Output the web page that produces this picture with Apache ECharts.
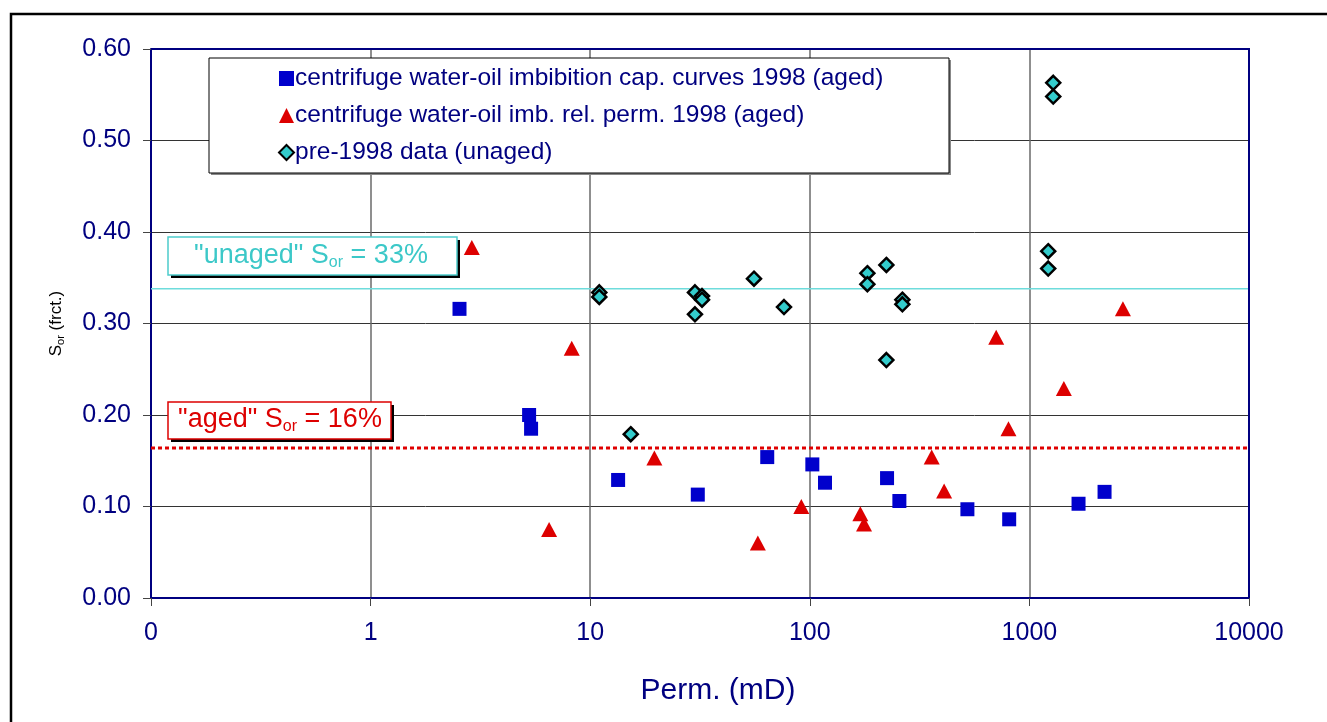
<!DOCTYPE html>
<html>
<head>
<meta charset="utf-8">
<script src="https://cdn.jsdelivr.net/npm/echarts@6/dist/echarts.min.js"></script>
<style>
  html, body { margin: 0; padding: 0; background: #ffffff; }
  #chart { width: 1327px; height: 722px; }
</style>
</head>
<body>
<div id="chart"></div>
<script>
// Residual oil saturation vs permeability
const capPerm = [2.54, 5.27, 5.38, 13.4, 30.9, 64.0, 102.7, 117.3, 224.8, 255.8, 522, 809, 1674, 2199];
const capSor  = [0.316, 0.200, 0.185, 0.129, 0.113, 0.154, 0.146, 0.126, 0.131, 0.106, 0.097, 0.086, 0.103, 0.116];

const relPerm = [2.89, 8.24, 19.6, 6.50, 58.0, 91.5, 169.9, 176.6, 359, 409, 706, 803, 1435, 2666];
const relSor  = [0.383, 0.273, 0.153, 0.075, 0.060, 0.100, 0.092, 0.081, 0.154, 0.117, 0.285, 0.185, 0.229, 0.316];

const unagedPerm = [11.0, 11.0, 15.3, 30.0, 30.0, 32.3, 32.3, 55.7, 76.3, 182.9, 182.9, 223.2, 223.2, 264, 264, 1218, 1218, 1284, 1284];
const unagedSor  = [0.334, 0.329, 0.179, 0.334, 0.310, 0.330, 0.326, 0.349, 0.318, 0.355, 0.343, 0.364, 0.260, 0.326, 0.321, 0.379, 0.360, 0.563, 0.548];

const seriesNames = [
  'centrifuge water-oil imbibition cap. curves 1998 (aged)',
  'centrifuge water-oil imb. rel. perm. 1998 (aged)',
  'pre-1998 data (unaged)'
];

// Average residual oil saturation levels
const unagedMean = 0.338;
const agedMean = 0.164;

const xTicks = [0.1, 1, 10, 100, 1000, 10000];
const yTicks = ['0.00', '0.10', '0.20', '0.30', '0.40', '0.50', '0.60'];

const NAVY = '#000080';
const FONT = 'Liberation Sans, Arial, sans-serif';

const pairs = (xs, ys) => xs.map((x, i) => [x, ys[i]]);
// whole percent, truncated
const pct = v => Math.floor(v * 100 + 1e-9) + '%';

const chart = echarts.init(document.getElementById('chart'), null, { renderer: 'canvas' });

const option = {
  backgroundColor: '#ffffff',
  animation: false,
  textStyle: { fontFamily: FONT },
  grid: { left: 151, top: 49, right: 78, bottom: 124, show: false },
  xAxis: {
    type: 'log',
    logBase: 10,
    min: xTicks[0],
    max: xTicks[xTicks.length - 1],
    name: 'Perm. (mD)',
    nameLocation: 'middle',
    nameGap: 78,
    nameTextStyle: { color: NAVY, fontSize: 30, fontFamily: FONT, padding: [0, 0, 0, 36] },
    axisLine: { show: true, onZero: false, lineStyle: { color: NAVY, width: 2 } },
    axisTick: { show: true, inside: false, length: 8, lineStyle: { color: '#444', width: 1 } },
    axisLabel: {
      color: NAVY, fontSize: 25, fontFamily: FONT, margin: 23,
      formatter: v => (v < 1 ? '0' : String(Math.round(v)))
    },
    splitLine: { show: true, lineStyle: { color: '#6a6a6a', width: 1.5 } },
    minorTick: { show: false },
    minorSplitLine: { show: false }
  },
  yAxis: {
    type: 'value',
    min: 0,
    max: 0.6,
    interval: 0.1,
    name: '{a|S}{b|or}{a| (frct.)}',
    nameLocation: 'middle',
    nameGap: 85,
    nameRotate: 90,
    nameTextStyle: {
      color: '#000',
      rich: {
        a: { fontSize: 17, fontFamily: FONT, color: '#000', lineHeight: 20 },
        b: { fontSize: 11, fontFamily: FONT, color: '#000', lineHeight: 12, verticalAlign: 'bottom' }
      }
    },
    axisLine: { show: true, lineStyle: { color: NAVY, width: 2 } },
    axisTick: { show: true, inside: false, length: 8, lineStyle: { color: '#444', width: 1 } },
    axisLabel: {
      color: NAVY, fontSize: 25, fontFamily: FONT, margin: 20,
      formatter: (v) => yTicks[Math.round(v * 10)]
    },
    splitLine: { show: true, lineStyle: { color: '#333', width: 1 } }
  },
  legend: {
    data: seriesNames,
    orient: 'vertical',
    left: 273,
    top: 61,
    itemWidth: 15,
    itemHeight: 15,
    itemGap: 12,
    z: 20,
    textStyle: { color: NAVY, fontSize: 24.5, fontFamily: FONT, lineHeight: 25, padding: [0, 0, 0, -4] },
    selectedMode: false
  },
  graphic: [
    // outer frame
    { type: 'rect', z: 1, silent: true,
      shape: { x: 11, y: 14, width: 1400, height: 800 },
      style: { fill: 'none', stroke: '#000', lineWidth: 2.5 } },
    // top and right plot border
    { type: 'polyline', z: 5, silent: true,
      shape: { points: [[151, 49], [1249, 49], [1249, 598]] },
      style: { stroke: NAVY, lineWidth: 2, fill: 'none' } },
    // legend box with shadow
    { type: 'rect', z: 6, silent: true,
      shape: { x: 211, y: 60, width: 740, height: 115 },
      style: { fill: '#888' } },
    { type: 'rect', z: 7, silent: true,
      shape: { x: 209, y: 58, width: 740, height: 115 },
      style: { fill: '#fff', stroke: '#000', lineWidth: 1 } },
    // "unaged" level label
    { type: 'rect', z: 6, silent: true,
      shape: { x: 171, y: 240, width: 289, height: 38 },
      style: { fill: '#000' } },
    { type: 'rect', z: 7, silent: true,
      shape: { x: 168, y: 237, width: 289, height: 38 },
      style: { fill: '#fff', stroke: '#4CCCCC', lineWidth: 1.5 } },
    { type: 'text', z: 8, silent: true,
      x: 311, y: 256,
      style: {
        text: '{m|"unaged" S}{s|or}{m| = ' + pct(unagedMean) + '}',
        align: 'center', verticalAlign: 'middle',
        rich: {
          m: { fontSize: 27, fontFamily: FONT, fill: '#3CC8C8', lineHeight: 30 },
          s: { fontSize: 16, fontFamily: FONT, fill: '#3CC8C8', lineHeight: 16, verticalAlign: 'bottom' }
        }
      } },
    // "aged" level label
    { type: 'rect', z: 6, silent: true,
      shape: { x: 171, y: 405, width: 223, height: 37 },
      style: { fill: '#000' } },
    { type: 'rect', z: 7, silent: true,
      shape: { x: 168, y: 402, width: 223, height: 37 },
      style: { fill: '#fff', stroke: '#DD0000', lineWidth: 1.5 } },
    { type: 'text', z: 8, silent: true,
      x: 280, y: 420,
      style: {
        text: '{m|"aged" S}{s|or}{m| = ' + pct(agedMean) + '}',
        align: 'center', verticalAlign: 'middle',
        rich: {
          m: { fontSize: 27, fontFamily: FONT, fill: '#DD0000', lineHeight: 30 },
          s: { fontSize: 16, fontFamily: FONT, fill: '#DD0000', lineHeight: 16, verticalAlign: 'bottom' }
        }
      } }
  ],
  series: [
    {
      name: 'unaged level',
      type: 'line',
      data: [[xTicks[0], unagedMean], [xTicks[xTicks.length - 1], unagedMean]],
      showSymbol: false,
      silent: true,
      z: 1,
      lineStyle: { color: '#6EDCDC', width: 1.5 }
    },
    {
      name: 'aged level',
      type: 'line',
      data: [[xTicks[0], agedMean], [xTicks[xTicks.length - 1], agedMean]],
      showSymbol: false,
      silent: true,
      z: 1,
      lineStyle: { color: '#E00000', width: 3, type: [4, 3] }
    },
    {
      name: seriesNames[2],
      type: 'scatter',
      symbol: 'diamond',
      symbolSize: 14,
      z: 3,
      itemStyle: { color: '#33CCCC', borderColor: '#000', borderWidth: 2.5, opacity: 1 },
      data: pairs(unagedPerm, unagedSor)
    },
    {
      name: seriesNames[0],
      type: 'scatter',
      symbol: 'rect',
      symbolSize: 14,
      z: 4,
      itemStyle: { color: '#0000CC', opacity: 1 },
      data: pairs(capPerm, capSor)
    },
    {
      name: seriesNames[1],
      type: 'scatter',
      symbol: 'triangle',
      symbolSize: [16, 15],
      z: 4,
      itemStyle: { color: '#DD0000', opacity: 1 },
      data: pairs(relPerm, relSor)
    }
  ]
};

chart.setOption(option);
</script>
</body>
</html>
